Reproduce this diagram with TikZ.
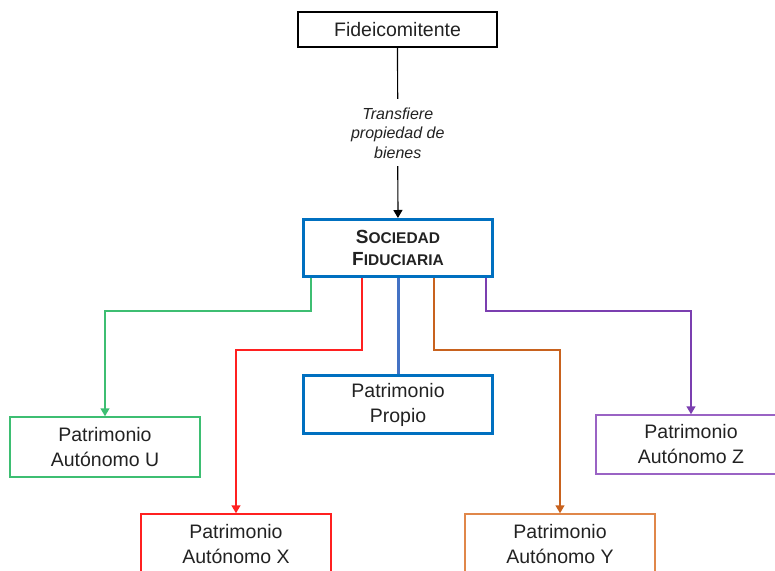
\documentclass[tikz,border=0pt]{standalone}
\usepackage{fontspec}
\setmainfont{Liberation Sans}
\usetikzlibrary{arrows.meta,calc}
\definecolor{boxblue}{HTML}{0070C0}
\definecolor{lineblue}{HTML}{4472C4}
\definecolor{ugreen}{HTML}{3DBE72}
\definecolor{xred}{HTML}{FF2020}
\definecolor{yorange}{HTML}{C8621E}
\definecolor{yorangebox}{HTML}{E0874A}
\definecolor{zpurple}{HTML}{7B3FB0}
\definecolor{zpurplebox}{HTML}{9A63C4}
\definecolor{txt}{HTML}{222222}
\newcommand\scword[2]{{\fontsize{19bp}{22bp}\selectfont #1}{\fontsize{15.5bp}{22bp}\selectfont #2}}
\tikzset{
  box/.style={draw, rectangle, line width=1.5bp, minimum width=190bp, minimum height=60bp,
    align=center, inner sep=0pt, text=txt, font=\fontsize{19.5bp}{25bp}\selectfont},
  mainbox/.style={box, draw=boxblue, line width=3bp, minimum width=189bp, minimum height=57bp},
  conn/.style={line width=1.5bp, -{Triangle[width=9bp,length=8bp]}},
  lbl/.style={fill=white, align=center, inner xsep=6bp, inner ysep=8bp, text=txt,
    font=\itshape\fontsize{16bp}{19.5bp}\selectfont}
}
\begin{document}
\begin{tikzpicture}[x=1bp,y=-1bp]
\useasboundingbox (0,0) rectangle (775,571);
\node[box, draw=black, line width=1.2bp, minimum width=199bp, minimum height=35bp] (fid) at (397.5,29.5) {Fideicomitente};
\node[mainbox, font=\bfseries\fontsize{19bp}{22bp}\selectfont] (soc) at (398,248) {\scword{S}{OCIEDAD}\\\scword{F}{IDUCIARIA}};
\node[mainbox, minimum height=58bp] (prop) at (398,404.5) {Patrimonio\\Propio};
\node[box, draw=ugreen] (u) at (105,447) {Patrimonio\\Autónomo U};
\node[box, draw=xred] (x) at (236,544) {Patrimonio\\Autónomo X};
\node[box, draw=yorangebox] (y) at (560,544) {Patrimonio\\Autónomo Y};
\node[box, draw=zpurplebox, minimum height=59bp] (z) at (691,444.5) {Patrimonio\\Autónomo Z};

\draw[conn, black, line width=1.2bp] (fid) -- (soc) node[midway, lbl] (lab) {Transfiere\\propiedad de\\bienes};
\draw[lineblue, line width=3bp] (soc) -- (prop);
\draw[conn, ugreen] ([xshift=9bp]soc.south west) -- ++(0,33) -| (u.north);
\draw[conn, xred] ([xshift=60bp]soc.south west) -- ++(0,72) -| (x.north);
\draw[conn, yorange] ([xshift=-60bp]soc.south east) -- ++(0,72) -| (y.north);
\draw[conn, zpurple] ([xshift=-8bp]soc.south east) -- ++(0,33) -| (z.north);
\end{tikzpicture}
\end{document}
